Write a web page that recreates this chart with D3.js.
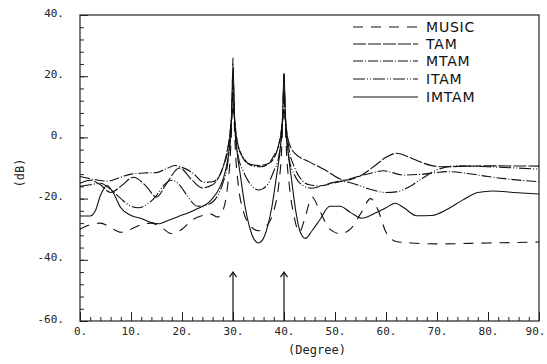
<!DOCTYPE html>
<html>
<head>
<meta charset="utf-8">
<script src="https://cdn.jsdelivr.net/npm/d3@7"></script>
<style>
  body { margin: 0; background: #fff; }
  svg { display: block; }
  .tick text { font-family: "DejaVu Sans Mono", monospace; font-size: 11px; fill: #222; }
  .legend text { font-family: "DejaVu Sans", sans-serif; font-size: 14px; fill: #111; }
</style>
</head>
<body>
<div id="chart"></div>
<script>
// [degree, dB]
const music = [[0,-30],[2,-28.5],[4,-28],[6,-29.5],[8,-31],[10,-30],[12,-28.5],[14,-28],[16,-29.5],[18,-31.5],[20,-30],[22,-27],[24,-25.5],[25.5,-25],[27,-26],[28,-24],[29,-15],[29.5,-5],[29.8,8],[30,26],[30.2,8],[30.5,-5],[31,-15],[32,-24],[33,-28],[35,-30.5],[37,-28],[38,-24],[39,-15],[39.5,-5],[39.8,8],[40,22],[40.2,8],[40.5,-5],[41,-15],[42,-26],[43,-31],[44,-27],[45.5,-19.5],[47,-24],[49,-30],[51,-31.5],[53,-30],[55,-25],[57,-20],[58.5,-24],[60,-31],[62,-34],[65,-34.5],[70,-34.8],[80,-34.5],[90,-34.2]];
const tam = [[0,-15],[2,-14],[4,-15.5],[6,-18],[8,-16],[10.5,-13],[13,-16],[15,-19.5],[17,-15],[19.5,-10],[22,-14],[24,-16.5],[26,-15.5],[27.5,-12],[28.5,-7],[29.3,0],[29.7,6],[30,10],[30.3,6],[30.7,0],[31.5,-5],[33,-8.5],[35,-9.2],[37,-8.5],[38.5,-5],[39.3,0],[39.7,5],[40,9],[40.3,5],[40.7,0],[42,-5],[45,-8],[48,-10.6],[52,-14],[55,-12.5],[58,-9],[60,-6.5],[62,-5.2],[65,-6.8],[67.5,-8.5],[70.5,-9.6],[80,-9.3],[90,-9.4]];
const mtam = [[0,-12.8],[2,-13.5],[5.5,-14.3],[8,-13],[10,-12],[13,-11.6],[15,-11.5],[17,-10.2],[18.6,-9.2],[20,-9.8],[22,-11.5],[24.4,-14.7],[26,-14.5],[27,-13.4],[28,-10],[29,-4],[29.6,4],[30,14],[30.4,4],[31,-3],[32,-6.5],[34,-9.4],[35.5,-9.6],[37,-8.5],[38,-6],[39,-2],[39.6,4],[40,12],[40.4,4],[41,-4],[42,-9.5],[43.5,-14],[45,-15.5],[47,-15.8],[50,-14.8],[52,-14],[55,-12.5],[57,-11.7],[59.5,-10.9],[63.4,-12.3],[67.3,-12],[72,-11.2],[76,-11.8],[80,-12.8],[85,-13.8],[90,-14.5]];
const itam = [[0,-16],[2,-15.5],[4,-15],[6,-17],[8,-20],[10,-22.5],[11.5,-23],[13,-22],[15,-19],[16.5,-15.5],[18,-14],[19.5,-15.5],[21,-19],[23,-22.5],[25,-22],[27,-19],[28,-15],[29,-8],[29.6,2],[30,18],[30.4,2],[31,-6],[32,-11],[33.5,-15.5],[35,-17.2],[36.5,-16],[38,-11],[39,-6],[39.6,2],[40,16],[40.4,2],[41,-7],[42,-12],[43.5,-15.5],[45.4,-16.6],[48,-15.5],[51,-14.3],[54,-15.3],[57,-17],[60,-18],[62,-17.8],[64.7,-16],[67,-13.5],[70,-10.6],[73.9,-9.3],[80,-9.6],[90,-10.4]];
const imtam = [[0,-25.7],[2,-25.7],[3,-24],[4,-19],[5.3,-15.7],[6.5,-18],[8,-23],[10,-25.5],[12,-26.5],[14,-27.8],[15.6,-28.2],[17,-27.3],[19.2,-25.9],[22.5,-23.7],[25.7,-20.5],[27.5,-16],[28.5,-11],[29.3,-3],[29.7,6],[30,24],[30.3,6],[30.7,-3],[31.5,-13],[32.3,-22],[33.2,-29],[34.2,-33.5],[35,-34.5],[35.8,-33.5],[36.8,-29],[37.7,-22],[38.5,-13],[39.3,-3],[39.7,6],[40,21],[40.3,6],[40.7,-3],[41.5,-14],[42.3,-24],[43.2,-31],[44.2,-33],[45.5,-30.5],[47,-27],[49,-22.5],[51,-22.5],[53,-24.5],[55.2,-26.4],[57.8,-24.8],[60,-23],[61.8,-21.5],[63.5,-23],[66,-25.6],[69,-25.5],[72,-23.5],[75,-20.5],[78,-18],[81,-17.5],[85,-18],[90,-18.5]];

const seriesNames = ["MUSIC", "TAM", "MTAM", "ITAM", "IMTAM"];
const seriesData = [music, tam, mtam, itam, imtam];
const dashes = ["10,8", "13,2", "10,2,1,2", "12,2,1,2,1,2", null];

const xMajor = [0, 10, 20, 30, 40, 50, 60, 70, 80, 90];
const yMajor = [-60, -40, -20, 0, 20, 40];
const sourceAngles = [30, 40];

const W = 547, H = 364;
const plotLeft = 80, plotRight = 539, plotTop = 15, plotBottom = 321;

const svg = d3.select("#chart").append("svg")
  .attr("width", W)
  .attr("height", H);

const x = d3.scaleLinear().domain([0, 90]).range([plotLeft, plotRight]);
const y = d3.scaleLinear().domain([-60, 40]).range([plotBottom, plotTop]);

// minor ticks
svg.append("g")
  .attr("transform", "translate(0," + plotBottom + ")")
  .call(d3.axisBottom(x).tickValues(d3.range(0, 91, 2)).tickSize(-4).tickSizeOuter(0).tickFormat(""))
  .call(g => g.select(".domain").remove());
svg.append("g")
  .attr("transform", "translate(" + plotLeft + ",0)")
  .call(d3.axisLeft(y).tickValues(d3.range(-60, 41, 4)).tickSize(-4).tickSizeOuter(0).tickFormat(""))
  .call(g => g.select(".domain").remove());

// major ticks with labels
const xAxis = svg.append("g")
  .attr("transform", "translate(0," + plotBottom + ")")
  .call(d3.axisBottom(x).tickValues(xMajor).tickSize(-9).tickSizeOuter(0).tickPadding(6).tickFormat(d => d + "."));
xAxis.select(".domain").remove();
xAxis.selectAll("text").filter(d => d === 90).attr("dx", "-4");

const yAxis = svg.append("g")
  .attr("transform", "translate(" + plotLeft + ",0)")
  .call(d3.axisLeft(y).tickValues(yMajor).tickSize(-8).tickSizeOuter(0).tickPadding(16).tickFormat(d => d + "."));
yAxis.select(".domain").remove();
yAxis.selectAll("text").attr("dy", "0.1em");

svg.selectAll(".tick line").attr("stroke", "#222");

// frame
svg.append("rect")
  .attr("x", plotLeft).attr("y", plotTop)
  .attr("width", plotRight - plotLeft).attr("height", plotBottom - plotTop)
  .attr("fill", "none").attr("stroke", "#222").attr("stroke-width", 1.2);

// curves
const line = d3.line()
  .x(d => x(d[0]))
  .y(d => y(d[1]))
  .curve(d3.curveMonotoneX);

svg.append("g")
  .selectAll("path")
  .data(seriesData)
  .join("path")
  .attr("d", line)
  .attr("fill", "none")
  .attr("stroke", "#111")
  .attr("stroke-width", 1.1)
  .attr("stroke-dasharray", (d, i) => dashes[i]);

// arrows marking source directions
const arrows = svg.append("g").attr("stroke", "#111").attr("fill", "none").attr("stroke-width", 1.2);
sourceAngles.forEach(a => {
  const ax = x(a), ay = y(-44);
  arrows.append("line").attr("x1", ax).attr("x2", ax).attr("y1", plotBottom).attr("y2", ay);
  arrows.append("path").attr("d", "M" + (ax - 3.5) + "," + (ay + 5) + "L" + ax + "," + ay + "L" + (ax + 3.5) + "," + (ay + 5));
});

// legend
const legend = svg.append("g").attr("class", "legend");
const legendY = [27, 44, 61, 79, 97];
seriesNames.forEach((name, i) => {
  legend.append("line")
    .attr("x1", 353).attr("x2", 418)
    .attr("y1", legendY[i]).attr("y2", legendY[i])
    .attr("stroke", "#111").attr("stroke-width", 1.2)
    .attr("stroke-dasharray", dashes[i]);
  legend.append("text")
    .attr("x", 426).attr("y", legendY[i] + 5)
    .attr("letter-spacing", "0.8px")
    .text(name);
});

// axis titles
svg.append("text")
  .attr("transform", "translate(24,173) rotate(-90)")
  .attr("text-anchor", "middle")
  .style("font-family", "DejaVu Sans Mono, monospace")
  .style("font-size", "12px")
  .attr("fill", "#222")
  .text("(dB)");

svg.append("text")
  .attr("x", 317).attr("y", 354)
  .attr("text-anchor", "middle")
  .style("font-family", "DejaVu Sans Mono, monospace")
  .style("font-size", "12px")
  .attr("fill", "#222")
  .text("(Degree)");
</script>
</body>
</html>
